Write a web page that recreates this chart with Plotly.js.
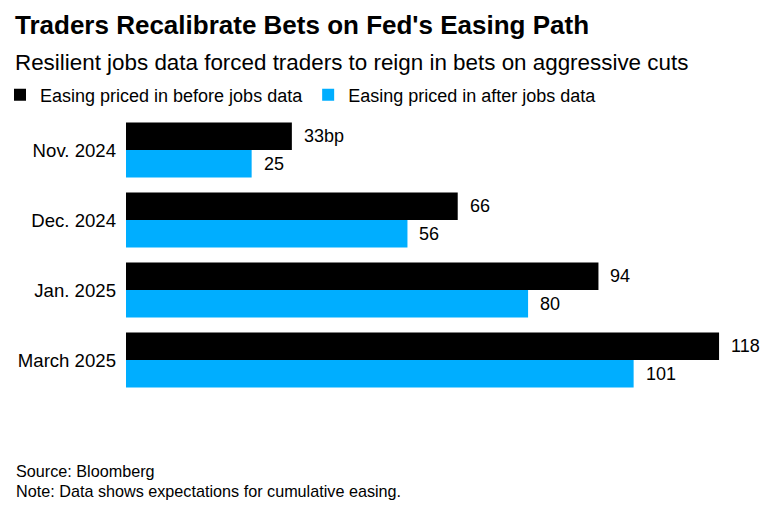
<!DOCTYPE html>
<html>
<head>
<meta charset="utf-8">
<script src="https://cdn.plot.ly/plotly-3.0.1.min.js"></script>
<style>html,body{margin:0;padding:0;background:#fff;}#chart{width:767px;height:508px;}</style>
</head>
<body>
<div id="chart"></div>
<script>
const categories = ["Nov. 2024", "Dec. 2024", "Jan. 2025", "March 2025"];
const beforeJobs = [33, 66, 94, 118];
const afterJobs = [25, 56, 80, 101];
const beforeLabels = ["33bp", "66", "94", "118"];
const afterLabels = ["25", "56", "80", "101"];
const seriesNames = ["Easing priced in before jobs data", "Easing priced in after jobs data"];
const colors = ["#000000", "#00aeff"];

const FONT = "Liberation Sans, Arial, sans-serif";
const W = 767, H = 508;
const L = 125, R = 0, T = 115, B = 113;
const pw = W - L - R, ph = H - T - B;
const px2x = (px) => (px - L) / pw;
const py2y = (py) => (H - B - py) / ph;

const traces = [
  {type: "bar", orientation: "h", name: seriesNames[0], y: categories, x: beforeJobs,
   marker: {color: colors[0]}, hoverinfo: "skip"},
  {type: "bar", orientation: "h", name: seriesNames[1], y: categories, x: afterJobs,
   marker: {color: colors[1]}, hoverinfo: "skip"}
];

const bargap = 0.214;
const catPx = ph / categories.length;
const barOffsetPx = (1 - bargap) / 4 * catPx;

const annotations = [];
categories.forEach((c, i) => {
  annotations.push({x: beforeJobs[i], y: c, xref: "x", yref: "y", text: beforeLabels[i],
    showarrow: false, xanchor: "left", yanchor: "middle", xshift: 10, yshift: barOffsetPx,
    font: {family: FONT, size: 18, color: "#000"}});
  annotations.push({x: afterJobs[i], y: c, xref: "x", yref: "y", text: afterLabels[i],
    showarrow: false, xanchor: "left", yanchor: "middle", xshift: 10, yshift: -barOffsetPx,
    font: {family: FONT, size: 18, color: "#000"}});
});
annotations.push({xref: "paper", yref: "paper", x: px2x(12), y: py2y(25), xanchor: "left", yanchor: "middle",
  text: "<b>Traders Recalibrate Bets on Fed's Easing Path</b>", showarrow: false,
  font: {family: FONT, size: 26, color: "#000"}});
annotations.push({xref: "paper", yref: "paper", x: px2x(12), y: py2y(62), xanchor: "left", yanchor: "middle",
  text: "Resilient jobs data forced traders to reign in bets on aggressive cuts", showarrow: false,
  font: {family: FONT, size: 22.4, color: "#000"}});
annotations.push({xref: "paper", yref: "paper", x: px2x(13), y: py2y(471), xanchor: "left", yanchor: "middle",
  text: "Source: Bloomberg", showarrow: false, font: {family: FONT, size: 16.2, color: "#000"}});
annotations.push({xref: "paper", yref: "paper", x: px2x(13), y: py2y(491), xanchor: "left", yanchor: "middle",
  text: "Note: Data shows expectations for cumulative easing.", showarrow: false,
  font: {family: FONT, size: 16.2, color: "#000"}});

const scale = (719 - 125) / 118;
const layout = {
  width: W, height: H,
  margin: {l: L, r: R, t: T, b: B, pad: 0},
  paper_bgcolor: "#fff", plot_bgcolor: "#fff",
  barmode: "group", bargap: bargap, bargroupgap: 0,
  font: {family: FONT, size: 18, color: "#000"},
  xaxis: {range: [0, pw / scale], visible: false, fixedrange: true},
  yaxis: {autorange: "reversed", type: "category", showgrid: false, zeroline: false, showline: false,
    ticks: "", ticklabelstandoff: 9, tickfont: {family: FONT, size: 18.6, color: "#000"}, fixedrange: true},
  showlegend: true,
  legend: {orientation: "h", x: px2x(-1), xanchor: "left", y: py2y(95), yanchor: "middle",
    font: {family: FONT, size: 18, color: "#000"}, traceorder: "normal", itemwidth: 30,
    bgcolor: "rgba(0,0,0,0)"},
  annotations: annotations
};

Plotly.newPlot("chart", traces, layout, {displayModeBar: false, staticPlot: true});
</script>
</body>
</html>
